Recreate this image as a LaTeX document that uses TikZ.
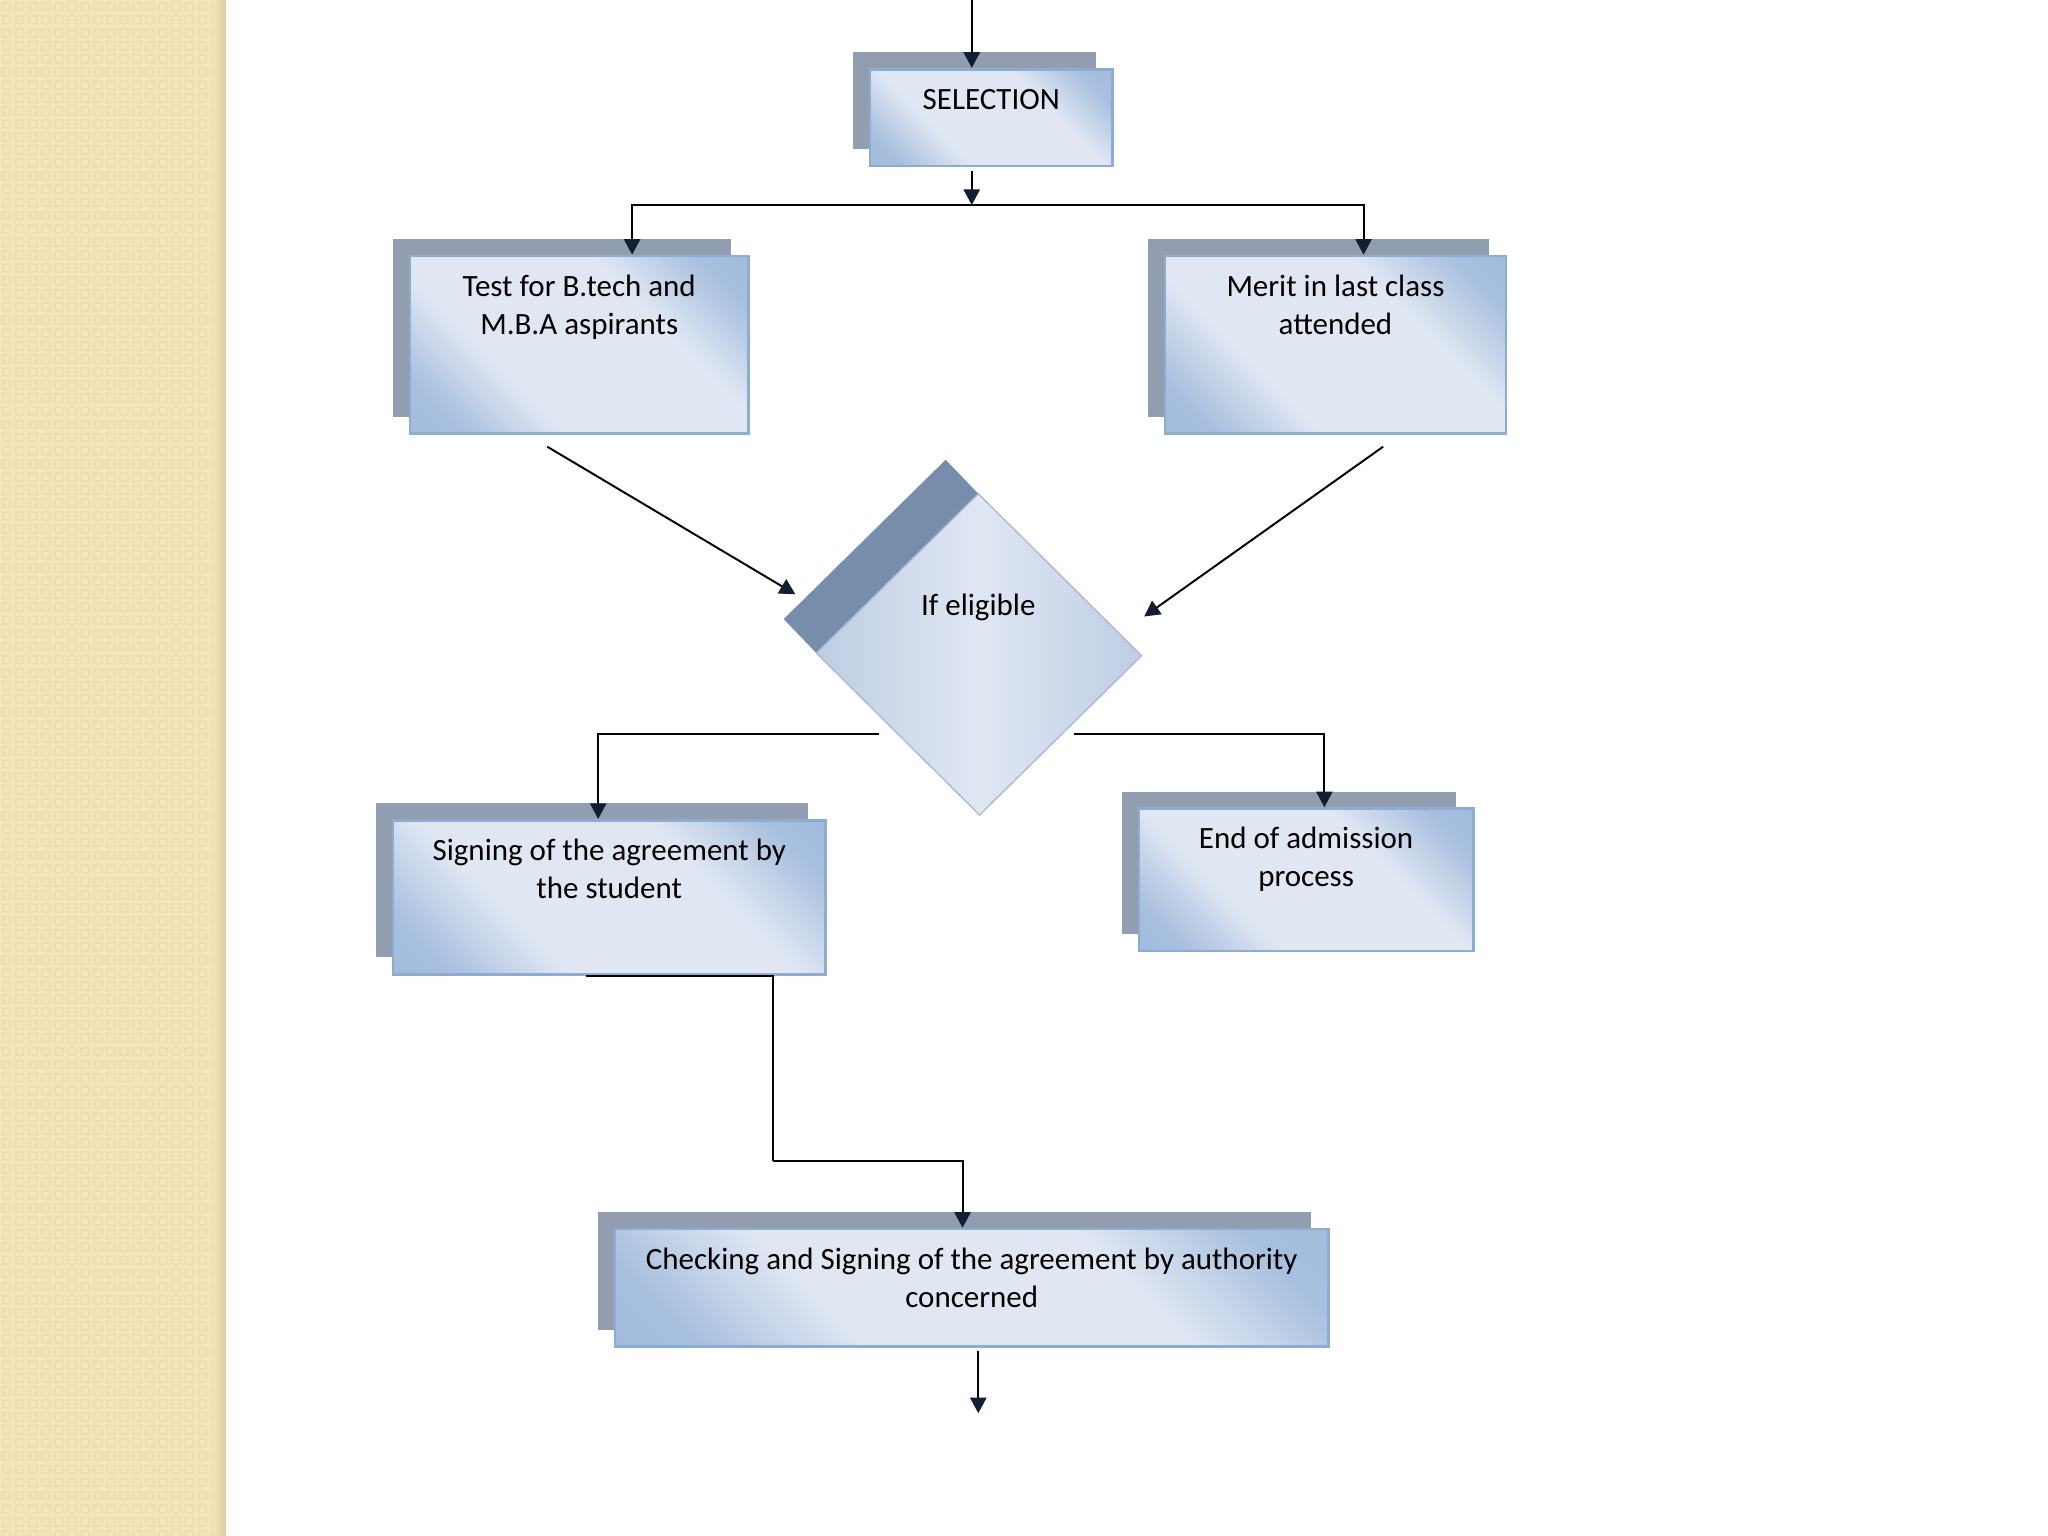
\documentclass[tikz,border=0pt]{standalone}
\usepackage{fontspec}
\setmainfont{Carlito}
\usetikzlibrary{arrows.meta,shadows,calc}

\definecolor{bdark}{RGB}{150,179,216}
\definecolor{blight}{RGB}{224,231,243}
\definecolor{bedge}{RGB}{141,172,212}
\definecolor{shadowgray}{RGB}{146,157,175}
\definecolor{banddark}{RGB}{118,141,172}
\definecolor{dmid}{RGB}{190,205,228}
\definecolor{diamedge}{RGB}{168,184,208}
\definecolor{tipnavy}{RGB}{18,30,50}
\definecolor{stripbase}{RGB}{244,228,186}
\definecolor{stripdot}{RGB}{238,220,174}
\definecolor{stripedge}{RGB}{222,204,160}

\pgfdeclarehorizontalshading{boxshade}{100bp}{color(0bp)=(bdark); color(22bp)=(bdark!75!blight); color(36bp)=(blight); color(64bp)=(blight); color(78bp)=(bdark!75!blight); color(100bp)=(bdark)}
\pgfdeclarehorizontalshading{diamshade}{100bp}{color(0bp)=(dmid); color(25bp)=(dmid); color(50bp)=(blight); color(75bp)=(dmid); color(100bp)=(dmid)}

\newcommand{\boxtext}[3]{\parbox[t][#2][t]{#1}{\centering\rule{0pt}{17.6pt}#3}}

\tikzset{
  flowbox/.style={anchor=north west, inner sep=0pt, draw=bedge, line width=0.04cm,
    shading=boxshade, shading angle=45,
    drop shadow={shadow xshift=-0.26cm, shadow yshift=0.26cm, fill=shadowgray, opacity=1},
    font=\fontsize{13.5}{16.4}\selectfont},
  flowline/.style={line width=0.03cm, -{Triangle[length=0.24cm, width=0.25cm, color=tipnavy]}},
  plainline/.style={line width=0.03cm}
}

\begin{document}
\begin{tikzpicture}[x=0.02cm, y=-0.02cm]
  \useasboundingbox (0,0) rectangle (1568,1176);

  % left strip
  \fill[stripbase] (0,0) rectangle (173,1176);
  \foreach \i in {0,...,16}
    \foreach \j in {0,...,117}
      \draw[stripdot, line width=0.03cm] (\i*10+2,\j*10+2) rectangle +(6,6);
  \shade[left color=stripbase, right color=stripedge] (163,0) rectangle (173,1176);

  % boxes
  \node[flowbox] (sel) at (665,52) {\boxtext{3.72cm}{1.48cm}{SELECTION}};
  \node[flowbox] (test) at (313,195) {\boxtext{5.18cm}{2.72cm}{Test for B.tech and\\M.B.A aspirants}};
  \node[flowbox] (merit) at (891,195) {\boxtext{5.22cm}{2.72cm}{Merit in last class\\attended}};
  \node[flowbox] (sign) at (300,627) {\boxtext{6.62cm}{2.36cm}{Signing of the agreement by\\the student}};
  \node[flowbox] (endp) at (871,618) {\boxtext{5.12cm}{2.18cm}{End of admission\\process}};
  \node[flowbox] (check) at (470,940) {\boxtext{10.92cm}{1.8cm}{Checking and Signing of the agreement by authority\\concerned}};

  % decision
  \fill[banddark] (724,352) -- (749,378) -- (625,500) -- (600,474) -- cycle;
  \shade[shading=diamshade, shading angle=0, draw=diamedge, line width=0.02cm]
    (749,378) -- (874,502) -- (750,624) -- (625,500) -- cycle;
  \node[anchor=base, font=\fontsize{13.5}{16.4}\selectfont] (elig) at (749,471) {If eligible};

  % free ends
  \coordinate (top) at (744,0);
  \coordinate (selout) at (744,131);
  \coordinate (split) at (744,157);
  \coordinate (dleft) at (609,455);
  \coordinate (dright) at (876,472);
  \coordinate (yesout) at (673,562);
  \coordinate (noout) at (822,562);
  \coordinate (bend) at (592,889);
  \coordinate (last) at (749,1082);

  % connectors
  \draw[flowline] (top) -- (top |- sel.north);
  \draw[flowline] (selout) -- (split);
  \draw[flowline] (split) -| ($(test.north)+(40.5,0)$);
  \draw[flowline] (split) -| ($(merit.north)+(21.5,0)$);
  \draw[flowline] ($(test.south)+(-24.5,9)$) -- (dleft);
  \draw[flowline] ($(merit.south)+(36.5,9)$) -- (dright);
  \draw[flowline] (yesout) -| ($(sign.north)+(-8.5,0)$);
  \draw[flowline] (noout) -| ($(endp.north)+(14,0)$);
  \draw[plainline] ($(sign.south)+(-17.5,0)$) -- (bend |- sign.south) -- (bend);
  \draw[flowline] (bend) -| ($(check.north)+(-7,0)$);
  \draw[flowline] ($(last |- check.south)+(0,2)$) -- (last);
\end{tikzpicture}
\end{document}
